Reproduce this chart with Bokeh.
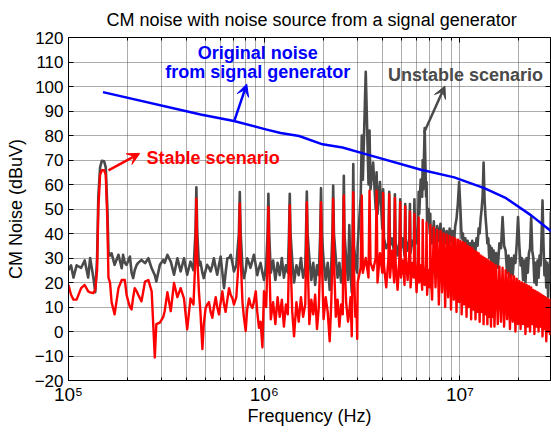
from bokeh.plotting import figure
from bokeh.models import (Range1d, FixedTicker, Label, Arrow, VeeHead,
                          LogAxis, LinearAxis)
from bokeh.embed import file_html
from bokeh.resources import INLINE

# ---------------- data (frequencies in kHz, levels in dBuV) ----------------
lo_f = [100, 103, 106, 110, 116, 121, 126, 129, 134, 137,
        140, 142, 145, 148, 152, 155, 158, 160, 163, 166,
        172, 180, 187, 190, 194, 198, 202, 206, 210, 214,
        218, 223, 227, 236, 246, 256, 266, 276, 281, 293,
        305, 310, 320, 333, 346, 360, 374, 389, 404, 420,
        435, 445, 450, 455, 464, 472, 483, 491, 502, 511,
        522, 532, 543, 553, 565, 575, 587, 599, 611, 623,
        635, 648, 661, 674, 688, 700, 720, 742, 750, 758,
        774, 787, 804, 818, 836, 851, 870, 885, 905, 921,
        940, 958, 979, 997, 1023, 1040, 1050, 1060, 1080, 1110,
        1140, 1170, 1200, 1230, 1260, 1290, 1320, 1338, 1350, 1362,
        1390, 1420, 1460, 1500, 1540, 1580, 1620, 1635, 1650, 1665,
        1700, 1740, 1780, 1820, 1860, 1900, 1932, 1950, 1968, 2010,
        2060, 2110, 2160, 2200, 2230, 2250, 2270, 2320, 2370, 2420,
        2470, 2520, 2530, 2550, 2570, 2620, 2680, 2720, 2760, 2800,
        2825, 2850, 2875, 2920, 2960, 2985]
lo_gray = [25, 27, 22, 27, 26, 29, 22, 30, 22, 16,
           30, 55, 67, 69.7, 69.5, 67, 50, 32.6, 31, 31.9,
           27.2, 31.3, 25.8, 31.3, 28, 27.2, 29, 30.6, 24, 21.8,
           25, 27.2, 28, 29.2, 27.9, 29.9, 25.8, 23, 20.4, 27.2,
           29.2, 28, 31.3, 28.5, 23.2, 29.9, 24.5, 29.9, 23.2, 28.5,
           25, 40, 58.9, 40, 27, 28.5, 24, 21.8, 25, 27.2,
           26, 24.5, 27, 29.9, 26, 23.2, 27, 30.6, 24, 17.7,
           24, 29.9, 30, 31.3, 28, 24.5, 27, 40, 56.9, 40,
           26, 21.8, 25, 29.9, 28, 26, 29, 31.3, 27, 23,
           26, 28, 24, 21, 27, 40, 56.2, 40, 24, 29,
           21, 28, 23, 30, 22, 27, 24, 40, 56.2, 40,
           29, 20, 27, 23, 30, 22, 26, 40, 57.1, 40,
           30, 21, 28, 19, 27, 23, 40, 58.5, 40, 29,
           21, 28, 17, 27, 40, 59.6, 40, 30, 22, 28,
           20, 26, 40, 63.6, 40, 30, 21, 43.4, 24, 16,
           35, 68.3, 35, 29, 25, 24]
lo_red = [19, 15, 13, 13, 17.7, 19, 16.4, 16, 15.7, 17,
          25, 50, 64, 65.8, 65.8, 64, 45, 22, 20, 12,
          7, 17.7, 21, 21, 21, 15, 12.3, 10, 9, 14,
          17.7, 16.4, 15, 12.3, 20.4, 21, 16.4, -10.6, 3, 3.6,
          6, 8.3, 16, 8.3, 19.8, 14, 17.7, 13.5, 0.9, 13.5,
          11, 30, 54.2, 30, 16, 8, -7.2, 3, 9.6, 11,
          12, 8, 5.6, 10, 14, 10, 7, 12, 16.4, 11,
          8, 13, 17.7, 15, 13.5, 11, 14, 30, 52.2, 30,
          12, 6, 0.2, 9, 13.5, 11, 9.6, 12, 16.4, 8,
          1.5, 4, -6.5, 16.4, 10, 30, 50.8, 30, 5, 12,
          3, 14, 6, 13, 2, 11, 7, 30, 51.5, 30,
          8, -2, 12, 4, 14, 6, 11, 30, 52.8, 30,
          3, 13, 7, 15, 1, 10, 30, 52.8, 30, 5,
          14, 8, -4, 12, 30, 54.2, 30, 6, 13, 2,
          11, 7, 30, 55.5, 30, 12, 4, 8, 14, -2,
          25, 56.9, 25, 6, 10, -3]

# 3 - 7 MHz: harmonic spikes resolved
mid_f = [3000,
         3110, 3150, 3190, 3300, 3410, 3450, 3490, 3600,
         3710, 3750, 3790, 3900, 4010, 4050, 4090, 4200,
         4310, 4350, 4390, 4500, 4610, 4650, 4690, 4800,
         4910, 4950, 4990, 5100, 5210, 5250, 5290, 5400,
         5510, 5550, 5590, 5700, 5810, 5850, 5890, 6000,
         6110, 6150, 6190, 6300, 6410, 6450, 6490, 6600,
         6710, 6750, 6790, 6900, 7010, 7050, 7090]
mid_gray = [35,
            55, 80, 62, 106, 60, 82, 58, 69,
            50, 65, 48, 61, 42, 58, 38, 34,
            36, 57, 35, 38, 32, 56, 36, 31,
            37, 54, 34, 38, 31, 52, 37, 33,
            38, 52, 32, 37, 35, 54, 40, 36,
            44, 57, 48, 62, 55, 70, 58, 83,
            55, 61, 45, 50, 40, 48, 38]
mid_red = [20,
           26, 55.5, 24, 30, 22, 57.5, 28, 25,
           30, 57.5, 20, 32, 24, 56.5, 27, 18,
           30, 56, 22, 33, 20, 54.5, 28, 17,
           31, 52.8, 22, 29, 19, 51, 30, 21,
           32, 49, 18, 28, 22, 48, 30, 16,
           29, 46.5, 20, 27, 17, 45.5, 28, 19,
           26, 44.5, 15, 25, 18, 43.5, 24]

# 7.2 - 30 MHz: dense harmonic comb
hi_f = [7200, 7350, 7500, 7650, 7800, 7950, 8100, 8250, 8400, 8550,
        8700, 8850, 9000, 9150, 9300, 9450, 9600, 9750, 9900, 10050,
        10200, 10350, 10500, 10650, 10800, 10950, 11100, 11250, 11400, 11550,
        11700, 11850, 12000, 12150, 12300, 12450, 12600, 12750, 12900, 13050,
        13200, 13350, 13500, 13650, 13800, 13950, 14100, 14250, 14400, 14550,
        14700, 14850, 15000,
        15300, 15600, 15900, 16200, 16500, 16800, 17100, 17400, 17700, 18000,
        18300, 18600, 18900, 19200, 19500, 19800, 20100, 20400, 20700, 21000,
        21300, 21600, 21900, 22200, 22500, 22800, 23100, 23400, 23700, 24000,
        24300, 24600, 24900, 25200, 25500, 25800, 26100, 26400, 26700, 27000,
        27300, 27600, 27900, 28200, 28500, 28800, 29100, 29400, 29700, 30000]
hi_gray = [36, 45, 34, 43, 37, 44, 33, 42, 36, 41,
           34, 42, 37, 41, 35, 43, 46, 52, 61, 50,
           38, 40, 33, 38, 34, 37, 31, 36, 32, 37,
           30, 36, 33, 38, 35, 42, 40, 46, 50, 55,
           69, 54, 47, 42, 36, 38, 30, 35, 29, 34,
           28, 33, 27,
           32, 26, 36, 34, 46.7, 35, 33, 24, 31, 22,
           30, 23, 31, 28, 36, 46.7, 35, 27, 30, 21,
           29, 20, 30, 24, 32, 34, 46.7, 33, 30, 20,
           28, 19, 29, 22, 31, 27, 38, 53.5, 36, 23,
           29, 18, 28, 14, 27, 20, 48.8, 33, 30, 32]
hi_red = [13, 42.5, 18, 41.5, 11, 41, 16, 40, 10, 39.5,
          14, 39, 9, 38.5, 13, 38, 8, 37.5, 12, 37,
          7, 36.5, 11, 36, 6, 35, 10, 34.5, 5, 34,
          9, 33, 5, 32.5, 8, 32, 4, 31, 8, 30.5,
          3, 30, 7, 29.5, 3, 29, 6, 28.5, 2, 28,
          6, 27.5, 2,
          27, 3, 26.5, 4, 26, 2, 25, 5, 24, 1,
          23, 4, 22.5, 0, 21.5, 3, 20.5, 1, 20, 3,
          19.5, -1, 19, 2, 18.5, 0, 18, 3, 17, -1,
          16.5, 2, 16, 0, 15.5, 2, 15, -2, 14.5, 1,
          14, -4, 13.5, 0, 13, -1, 13, 1, 12.5, 0]

blue_f = [150, 473, 700, 1018, 1212, 1507, 1985, 2510, 3300, 6320,
          9350, 13300, 17200, 23100, 29500]
blue_v = [97.7, 88.6, 85.9, 82.5, 81.0, 79.8, 76.4, 75.1, 72.4, 66.0,
          62.9, 58.5, 54.4, 47.4, 40.7]

x_major = [1e5, 1e6, 1e7]
x_minor = [2e5, 3e5, 4e5, 5e5, 6e5, 7e5, 8e5, 9e5,
           2e6, 3e6, 4e6, 5e6, 6e6, 7e6, 8e6, 9e6, 2e7]
x_tick_labels = ["10\u2075", "10\u2076", "10\u2077"]
y_ticks = [-20, -10, 0, 10, 20, 30, 40, 50, 60, 70, 80, 90, 100, 110, 120]

# ---------------- figure ----------------
GRAY = "#4a4a4a"
FONT = "Liberation Sans"

p = figure(width=551, height=432, x_axis_type="log",
           x_range=Range1d(1e5, 2.9e7), y_range=Range1d(-20, 120),
           output_backend="svg", toolbar_location=None,
           min_border_left=68, min_border_right=1,
           min_border_top=34, min_border_bottom=52,
           title="CM noise with noise source from a signal generator")
p.background_fill_color = "white"
p.border_fill_color = "white"
p.outline_line_color = "black"
p.outline_line_width = 1

p.title.text_font = FONT
p.title.text_font_size = "18px"
p.title.text_font_style = "normal"
p.title.align = "left"
p.title.offset = 38
p.title.standoff = 15
p.title.text_color = "black"

p.xaxis.ticker = FixedTicker(ticks=x_major, minor_ticks=x_minor)
p.yaxis.ticker = FixedTicker(ticks=y_ticks)
p.xaxis.major_label_overrides = {t: s for t, s in zip(x_major, x_tick_labels)}

for ax in (p.xaxis, p.yaxis):
    ax.axis_line_color = "black"
    ax.major_tick_line_color = "black"
    ax.minor_tick_line_color = "black"
    ax.major_tick_in = 5
    ax.major_tick_out = 0
    ax.minor_tick_in = 3
    ax.minor_tick_out = 0
    ax.major_label_text_font = FONT
    ax.major_label_text_color = "black"
    ax.axis_label_text_font = FONT
    ax.axis_label_text_font_size = "18px"
    ax.axis_label_text_font_style = "normal"
    ax.axis_label_text_color = "black"

p.xaxis.major_label_text_font_size = "19px"
p.xaxis.major_label_standoff = 3
p.xaxis.axis_label = "Frequency (Hz)"
p.xaxis.axis_label_standoff = -2
p.yaxis.major_label_text_font_size = "17px"
p.yaxis.major_label_standoff = 5
p.yaxis.axis_label = "CM Noise (dBuV)"
p.yaxis.axis_label_standoff = 6

# tick marks on the top and right edges of the box (labels invisible)
top_ax = LogAxis(ticker=FixedTicker(ticks=x_major, minor_ticks=x_minor),
                 major_label_overrides={t: " " for t in x_major})
right_ax = LinearAxis(ticker=FixedTicker(ticks=y_ticks),
                      major_label_overrides={t: " " for t in y_ticks})
for ax in (top_ax, right_ax):
    ax.axis_line_color = None
    ax.major_tick_line_color = "black"
    ax.minor_tick_line_color = "black"
    ax.major_tick_in = 5
    ax.major_tick_out = 0
    ax.minor_tick_in = 3
    ax.minor_tick_out = 0
    ax.major_label_text_font_size = "1px"
    ax.major_label_text_alpha = 0
    ax.major_label_standoff = 0
p.add_layout(top_ax, "above")
p.add_layout(right_ax, "right")

for g in (p.xgrid, p.ygrid):
    g.grid_line_color = "#474747"
    g.grid_line_dash = "1 1"
    g.grid_line_width = 1
    g.grid_line_alpha = 0.9
p.xgrid.minor_grid_line_color = "#474747"
p.xgrid.minor_grid_line_dash = "1 1"
p.xgrid.minor_grid_line_alpha = 0.9

# ---------------- series ----------------
k = 1e3
all_f = [f * k for f in lo_f + mid_f + hi_f]
gray_y = lo_gray + mid_gray + hi_gray
red_y = lo_red + mid_red + hi_red

p.line(all_f, gray_y, line_color=GRAY, line_width=2.6, line_join="round")
p.line(all_f, red_y, line_color="#ff0000", line_width=2.4, line_join="round")
p.line([f * k for f in blue_f], blue_v, line_color="#0000ff", line_width=2.5,
       line_join="round")

# ---------------- annotations ----------------
def bold_label(x, y, text, color, align):
    p.add_layout(Label(x=x, y=y, text=text, text_color=color,
                       text_font=FONT, text_font_style="bold",
                       text_font_size="18px", text_align=align,
                       text_baseline="middle"))

bold_label(927e3, 113.5, "Original noise", "#0000ff", "center")
bold_label(927e3, 106.0, "from signal generator", "#0000ff", "center")
bold_label(4.29e6, 104.8, "Unstable scenario", GRAY, "left")
bold_label(250.6e3, 71.0, "Stable scenario", "#ff0000", "left")

def arrow(x0, y0, x1, y1, color):
    p.add_layout(Arrow(end=VeeHead(size=12, fill_color=color, line_color=color),
                       x_start=x0, y_start=y0, x_end=x1, y_end=y1,
                       line_color=color, line_width=2.5))

arrow(706e3, 86.4, 814e3, 101.0, "#0000ff")
arrow(6.55e6, 81.1, 8.38e6, 100.2, GRAY)
arrow(160e3, 65.8, 231e3, 72.7, "#ff0000")

open("out.html", "w").write(file_html(p, INLINE))
